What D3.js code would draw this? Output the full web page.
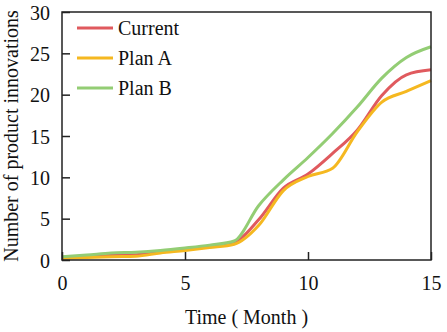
<!DOCTYPE html>
<html lang="en">
<head>
<meta charset="UTF-8">
<script src="https://cdn.jsdelivr.net/npm/d3@7"></script>
<style>
    body { margin: 0; background: #fff; }
    text { font-family: "Liberation Serif", "Times New Roman", serif; fill: #111; }
</style>
</head>
<body>
<script>
    // values, one point per month
    var months = d3.range(0, 16);
    var current = [0.3, 0.45, 0.6, 0.65, 0.95, 1.3, 1.6, 2.1, 4.9, 8.7, 10.4, 12.9, 15.7, 19.9, 22.4, 23.0];
    var planA = [0.2, 0.3, 0.4, 0.45, 0.85, 1.15, 1.5, 1.9, 4.2, 8.4, 10.1, 11.1, 15.5, 19.1, 20.4, 21.7];
    var planB = [0.4, 0.6, 0.85, 0.95, 1.15, 1.45, 1.8, 2.3, 6.6, 9.7, 12.4, 15.3, 18.5, 22.0, 24.5, 25.8];
    var seriesNames = ["Current", "Plan A", "Plan B"];
    var colors = ["#e05a5e", "#f5b820", "#93cd74"];
    var xTicks = [0, 5, 10, 15];
    var yTicks = [0, 5, 10, 15, 20, 25, 30];

    var width = 447, height = 332;
    var margin = {top: 12, right: 16, bottom: 72, left: 62};
    var w = width - margin.left - margin.right,
        h = height - margin.top - margin.bottom;
    var fontSize = 20;

    var svg = d3.select("body").append("svg").attr("width", width).attr("height", height);
    var g = svg.append("g").attr("transform", `translate(${margin.left},${margin.top})`);

    var x = d3.scaleLinear().domain([0, 15]).range([0, w]);
    var y = d3.scaleLinear().domain([0, 30]).range([h, 0]);

    var line = d3.line()
        .x(function(d, i) { return x(months[i]); })
        .y(function(d) { return y(d); })
        .curve(d3.curveMonotoneX);

    var all = [current, planA, planB];
    // draw order: current, plan A, plan B on top
    g.selectAll("path.series")
        .data(all)
        .enter().append("path")
        .attr("class", "series")
        .attr("d", line)
        .attr("fill", "none")
        .attr("stroke", function(d, i) { return colors[i]; })
        .attr("stroke-width", 3)
        .attr("stroke-linejoin", "round");

    // frame
    g.append("rect")
        .attr("width", w).attr("height", h)
        .attr("fill", "none").attr("stroke", "#222").attr("stroke-width", 1.5);

    var xAxis = g.append("g").attr("transform", `translate(0,${h})`)
        .call(d3.axisBottom(x).tickValues(xTicks).tickSize(-8).tickPadding(16).tickFormat(d3.format("d")));
    var yAxis = g.append("g")
        .call(d3.axisLeft(y).tickValues(yTicks).tickSize(-8).tickPadding(12).tickFormat(d3.format("d")));
    [xAxis, yAxis].forEach(function(a) {
        a.select(".domain").remove();
        a.selectAll(".tick line").attr("stroke", "#222").attr("stroke-width", 1.5);
        a.selectAll(".tick text").attr("font-size", fontSize).attr("font-family", "Liberation Serif").attr("fill", "#111");
    });
    xAxis.selectAll(".tick text").attr("dy", "0.71em");
    yAxis.selectAll(".tick text").attr("dy", "0.36em");

    svg.append("text")
        .attr("x", margin.left + w / 2).attr("y", 324)
        .attr("text-anchor", "middle").attr("font-size", fontSize)
        .text("Time ( Month )");

    svg.append("text")
        .attr("transform", `translate(18,${margin.top + h / 2}) rotate(-90)`)
        .attr("text-anchor", "middle").attr("font-size", fontSize)
        .text("Number of product innovations");

    // legend
    var legend = g.selectAll("g.legend")
        .data(seriesNames)
        .enter().append("g")
        .attr("class", "legend")
        .attr("transform", function(d, i) { return `translate(15,${16 + i * 30})`; });
    legend.append("line")
        .attr("x1", 0).attr("x2", 36)
        .attr("stroke", function(d, i) { return colors[i]; })
        .attr("stroke-width", 3);
    legend.append("text")
        .attr("x", 41).attr("dy", "0.35em")
        .attr("font-size", fontSize)
        .text(function(d) { return d; });
</script>
</body>
</html>
